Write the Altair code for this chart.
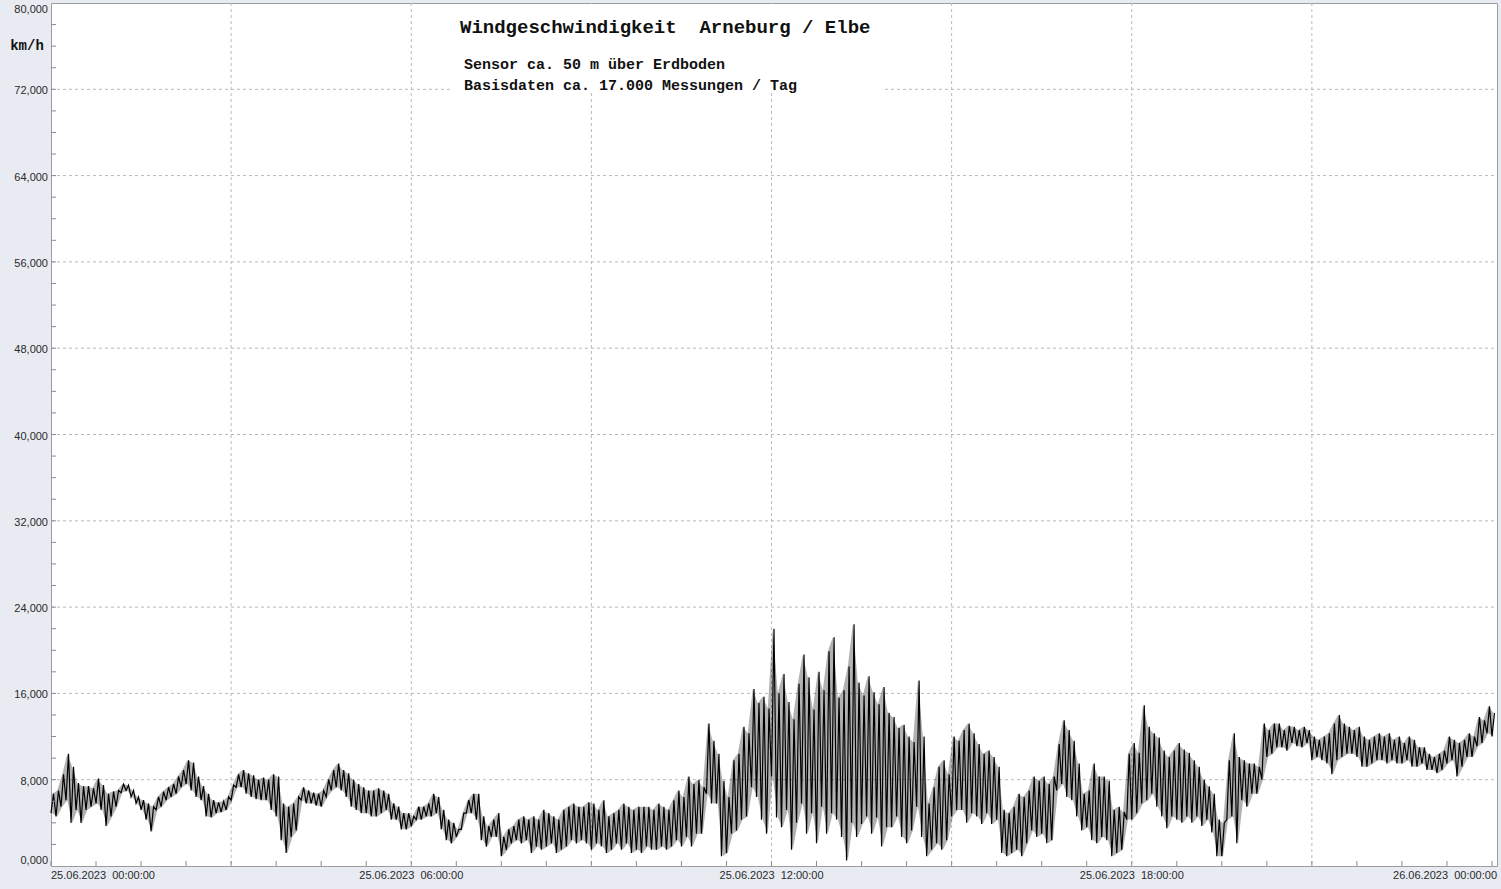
import altair as alt
import pandas as pd

# Wind speed, Arneburg / Elbe, 25.06.2023 - per 5-minute bin the lowest and
# highest reading (km/h); one line per hour.
STEP_MIN = 5
WIND_HI = [
    6.7, 7.0, 8.5, 10.4, 9.2, 7.7, 7.4, 7.4, 7.2, 8.1, 7.5, 6.7,
    6.9, 7.0, 7.6, 7.5, 7.0, 6.4, 6.1, 5.8, 5.5, 6.4, 6.9, 7.3,
    7.6, 8.3, 8.9, 9.8, 9.6, 8.3, 7.4, 6.7, 6.1, 5.9, 6.0, 6.4,
    7.5, 8.5, 8.9, 8.6, 8.4, 8.0, 8.2, 8.0, 8.5, 8.3, 5.8, 5.5,
    5.8, 6.4, 7.3, 7.0, 6.8, 6.7, 7.0, 8.0, 8.9, 9.5, 8.9, 8.6,
    8.0, 7.6, 7.3, 7.0, 7.0, 7.2, 7.0, 6.7, 5.8, 5.5, 4.9, 4.9,
    4.6, 5.5, 5.5, 5.8, 6.7, 6.4, 5.2, 4.3, 4.0, 3.4, 4.9, 6.1,
    6.7, 6.7, 4.6, 3.7, 4.3, 4.9, 2.7, 3.4, 3.7, 4.3, 4.6, 4.3,
    4.6, 4.3, 5.2, 4.9, 4.6, 4.3, 5.2, 5.5, 5.8, 5.5, 5.5, 5.9,
    5.8, 5.2, 6.1, 4.6, 4.9, 5.2, 5.8, 5.5, 5.2, 5.5, 5.5, 5.5,
    5.2, 5.8, 5.5, 5.2, 6.1, 7.0, 6.4, 8.3, 7.6, 8.0, 7.3, 13.2,
    11.6, 10.4, 7.9, 6.4, 9.8, 10.4, 12.9, 12.3, 16.4, 15.1, 15.7, 14.6,
    22.0, 16.0, 17.8, 15.2, 13.6, 16.9, 19.6, 17.5, 14.5, 18.0, 16.3, 19.9,
    21.2, 15.6, 16.3, 18.5, 22.4, 17.0, 15.8, 17.6, 16.1, 15.0, 16.6, 14.2,
    13.8, 12.8, 13.1, 12.0, 11.5, 17.2, 12.0, 5.8, 7.3, 9.2, 9.8, 8.5,
    12.0, 11.6, 12.6, 13.2, 12.3, 11.3, 10.4, 10.7, 10.1, 9.2, 5.2, 4.9,
    5.5, 6.7, 6.4, 7.0, 8.3, 7.9, 8.3, 7.6, 8.3, 11.3, 13.5, 12.6,
    11.6, 9.5, 6.7, 7.0, 9.5, 8.3, 8.3, 7.9, 5.2, 5.5, 5.0, 10.4,
    11.4, 10.5, 14.9, 12.9, 12.3, 11.9, 10.7, 10.1, 10.7, 11.4, 10.8, 10.5,
    9.8, 9.2, 8.0, 7.4, 6.7, 4.3, 4.0, 9.8, 12.3, 10.1, 9.8, 9.5,
    9.5, 9.2, 13.2, 12.6, 13.2, 13.2, 12.6, 13.0, 12.9, 12.6, 12.9, 12.6,
    12.0, 11.7, 12.0, 12.3, 13.2, 14.0, 13.2, 12.9, 12.6, 12.9, 12.0, 11.7,
    12.0, 12.3, 12.0, 12.3, 11.7, 12.0, 11.4, 12.0, 11.7, 11.0, 11.0, 10.4,
    10.1, 10.4, 10.7, 12.0, 11.7, 11.4, 11.7, 12.3, 12.0, 13.8, 13.5, 14.8,
    14.2,
]
WIND_LO = [
    4.9, 4.6, 5.5, 6.1, 4.0, 5.2, 4.0, 5.2, 5.5, 5.8, 5.2, 3.7,
    4.6, 5.5, 6.8, 7.0, 6.4, 5.8, 5.2, 4.3, 3.2, 5.2, 5.5, 6.1,
    6.4, 6.7, 7.3, 7.6, 7.0, 6.4, 6.1, 4.6, 4.5, 4.9, 5.0, 5.2,
    6.1, 7.3, 7.3, 6.7, 6.4, 6.2, 6.1, 6.1, 5.2, 4.6, 2.4, 1.2,
    2.7, 3.3, 6.1, 5.8, 5.8, 5.6, 5.5, 6.4, 7.0, 7.3, 7.0, 6.4,
    5.5, 5.2, 4.9, 4.9, 4.6, 4.6, 4.9, 5.2, 4.3, 4.3, 3.4, 3.4,
    3.7, 4.3, 4.3, 4.6, 4.6, 4.9, 3.4, 2.4, 2.1, 2.7, 3.4, 4.9,
    4.9, 4.3, 2.4, 1.8, 2.7, 2.7, 0.9, 1.5, 2.1, 2.4, 2.1, 2.4,
    1.2, 1.8, 1.5, 1.8, 2.1, 1.2, 1.5, 1.8, 2.4, 2.1, 2.4, 2.1,
    1.5, 2.1, 1.8, 1.2, 1.5, 2.1, 1.5, 2.1, 1.2, 1.5, 1.2, 1.8,
    1.5, 1.5, 1.8, 1.5, 1.8, 2.4, 1.8, 2.7, 1.8, 3.0, 3.0, 6.7,
    5.8, 5.8, 0.9, 1.2, 3.0, 3.3, 4.3, 4.6, 7.3, 6.4, 4.3, 3.0,
    8.3, 4.5, 3.6, 5.2, 1.5, 4.0, 5.8, 3.0, 4.9, 2.1, 5.5, 3.0,
    4.9, 4.3, 2.7, 0.5, 4.0, 2.7, 3.9, 4.6, 3.0, 4.5, 1.8, 3.6,
    3.6, 4.6, 2.7, 2.1, 3.3, 5.5, 2.7, 0.9, 1.5, 2.1, 1.5, 2.4,
    4.6, 5.2, 5.2, 4.0, 4.9, 4.6, 3.9, 4.9, 3.9, 4.3, 1.2, 0.9,
    1.2, 1.5, 0.9, 2.1, 3.3, 2.7, 3.0, 2.1, 2.4, 7.0, 7.6, 6.4,
    6.1, 4.6, 3.3, 3.6, 2.4, 2.1, 2.7, 2.4, 0.9, 1.2, 1.5, 4.3,
    4.3, 4.9, 5.8, 6.1, 6.7, 5.5, 4.6, 3.5, 4.6, 4.3, 4.0, 4.6,
    4.0, 4.6, 3.7, 4.3, 3.1, 0.9, 0.9, 4.3, 4.6, 2.1, 6.1, 5.5,
    6.7, 6.7, 8.0, 10.1, 10.4, 11.0, 11.0, 10.7, 11.4, 11.1, 11.0, 11.4,
    9.8, 10.1, 9.8, 9.5, 8.5, 9.8, 10.1, 10.4, 10.4, 10.1, 9.2, 9.2,
    9.5, 9.8, 9.8, 9.5, 9.8, 9.5, 9.5, 9.8, 9.2, 9.2, 9.5, 8.9,
    8.9, 8.6, 8.9, 9.5, 9.8, 8.3, 9.2, 10.1, 10.1, 11.1, 11.4, 12.3,
    12.0,
]

# Axis layout (minutes since 25.06.2023 00:00, km/h)
X_END = 1445
X_GRID = [180, 360, 540, 720, 900, 1080, 1260]
X_LABELS = [0, 360, 720, 1080, 1440]
X_MINOR = list(range(0, 1441, 45))
Y_GRID = list(range(8, 80, 8))
Y_LABELS = list(range(0, 81, 8))
Y_MINOR = list(range(2, 80, 2))

TITLE = "Windgeschwindigkeit\u00a0 Arneburg / Elbe"
SUB1 = "Sensor ca. 50 m über Erdboden"
SUB2 = "Basisdaten ca. 17.000 Messungen / Tag"
UNIT = "km/h"

W, H = 1446, 863
MONO = "Liberation Mono"
SANS = "Liberation Sans"
GRID = "#B9B9B9"
LABEL = "#2A2A2A"

rows = []
for i, (lo, hi) in enumerate(zip(WIND_LO, WIND_HI)):
    t = i * STEP_MIN
    rows.append({"t": t, "v": lo})
    rows.append({"t": t + STEP_MIN / 2, "v": hi})
series = pd.DataFrame(rows)
band = pd.DataFrame({
    "t": [i * STEP_MIN + STEP_MIN / 4 for i in range(len(WIND_LO))],
    "lo": WIND_LO,
    "hi": WIND_HI,
})

xs = alt.Scale(domain=[0, X_END], nice=False, zero=False)
ys = alt.Scale(domain=[0, 80], nice=False, zero=False)

one = pd.DataFrame({"k": [0]})

x_grid = alt.Chart(pd.DataFrame({"t": X_GRID})).mark_rule(
    color=GRID, strokeDash=[3, 3], strokeWidth=1
).encode(x=alt.X("t:Q", scale=xs, axis=None), y=alt.value(0), y2=alt.value(H))

y_grid = alt.Chart(pd.DataFrame({"v": Y_GRID})).mark_rule(
    color=GRID, strokeDash=[3, 3], strokeWidth=1
).encode(y=alt.Y("v:Q", scale=ys, axis=None), x=alt.value(0), x2=alt.value(W))

# white panel behind the heading
panel = alt.Chart(one).mark_rect(color="white").encode(
    x=alt.value(399), x2=alt.value(832), y=alt.value(1), y2=alt.value(90)
)

# light spread of the readings inside each bin, then the trace itself
spread = alt.Chart(band).mark_area(color="black", opacity=0.3).encode(
    x=alt.X("t:Q", scale=xs, axis=None),
    y=alt.Y("lo:Q", scale=ys, axis=None),
    y2="hi:Q",
)
line = alt.Chart(series).mark_line(color="black", strokeWidth=1.2).encode(
    x=alt.X("t:Q", scale=xs, axis=None),
    y=alt.Y("v:Q", scale=ys, axis=None),
)

x_minor = alt.Chart(pd.DataFrame({"t": X_MINOR})).mark_rule(color="#8C8C8C").encode(
    x=alt.X("t:Q", scale=xs, axis=None), y=alt.value(H - 5), y2=alt.value(H)
)
y_minor = alt.Chart(pd.DataFrame({"v": Y_MINOR})).mark_rule(color="#8C8C8C").encode(
    y=alt.Y("v:Q", scale=ys, axis=None), x=alt.value(0), x2=alt.value(5)
)

# time labels below the plot: first flush left, last flush right
x_text_expr = (
    "datum.t >= 1440 ? '26.06.2023\u00a0 00:00:00' : "
    "'25.06.2023\u00a0 ' + pad(toString(floor(datum.t / 60)), 2, '0', 'left') + ':00:00'"
)
x_lab_base = alt.Chart(pd.DataFrame({"t": X_LABELS})).transform_calculate(label=x_text_expr)


def x_labels(test, align, dx):
    return x_lab_base.transform_filter(test).mark_text(
        align=align, baseline="middle", font=SANS, fontSize=11, color=LABEL, dx=dx
    ).encode(x=alt.X("t:Q", scale=xs, axis=None), y=alt.value(H + 10), text="label:N")


x_first = x_labels("datum.t <= 0", "left", 0)
x_mid = x_labels("datum.t > 0 && datum.t < 1440", "center", 0)
x_last = x_labels("datum.t >= 1440", "right", 5)

# value labels left of the plot, German decimal comma
y_lab_base = alt.Chart(pd.DataFrame({"v": Y_LABELS})).transform_calculate(
    label="replace(format(datum.v, '.3f'), '.', ',')"
)


def y_labels(test, baseline, dy):
    return y_lab_base.transform_filter(test).mark_text(
        align="right", baseline=baseline, font=SANS, fontSize=11, color=LABEL, dy=dy
    ).encode(y=alt.Y("v:Q", scale=ys, axis=None), x=alt.value(-3), text="label:N")


y_top = y_labels("datum.v >= 80", "top", 1)
y_mid = y_labels("datum.v > 0 && datum.v < 80", "middle", 2)
y_bottom = y_labels("datum.v <= 0", "bottom", 0)

title = alt.Chart(one).mark_text(
    align="left", baseline="middle", font=MONO, fontWeight="bold", fontSize=19, color="#111111"
).encode(x=alt.value(409), y=alt.value(24), text=alt.value(TITLE))

sub1 = alt.Chart(one).mark_text(
    align="left", baseline="middle", font=MONO, fontWeight="bold", fontSize=15, color="#111111"
).encode(x=alt.value(413), y=alt.value(61), text=alt.value(SUB1))

sub2 = alt.Chart(one).mark_text(
    align="left", baseline="middle", font=MONO, fontWeight="bold", fontSize=15, color="#111111"
).encode(x=alt.value(413), y=alt.value(82), text=alt.value(SUB2))

unit = alt.Chart(one).mark_text(
    align="center", baseline="middle", font=MONO, fontWeight="bold", fontSize=14, color="#111111"
).encode(x=alt.value(-24), y=alt.value(43), text=alt.value(UNIT))

chart = (
    alt.layer(
        x_grid, y_grid, panel, spread, line, x_minor, y_minor,
        x_first, x_mid, x_last, y_top, y_mid, y_bottom,
        title, sub1, sub2, unit,
    )
    .properties(
        width=W,
        height=H,
        background="#E8EBF1",
        padding={"left": 51, "top": 3, "right": 4, "bottom": 23},
        autosize=alt.AutoSizeParams(type="none"),
    )
    .configure_view(stroke="#9C9C9C", strokeWidth=1, fill="white")
)

chart.save("out.html", embed_options={"renderer": "svg", "actions": False})
